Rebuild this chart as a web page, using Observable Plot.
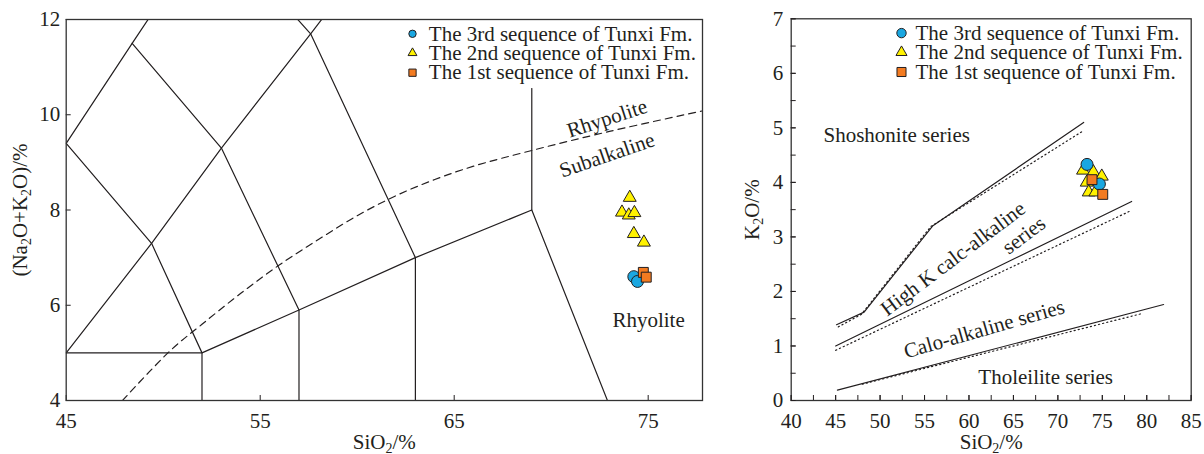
<!DOCTYPE html>
<html><head><meta charset="utf-8">
<script src="https://cdn.jsdelivr.net/npm/d3@7"></script>
<script src="https://cdn.jsdelivr.net/npm/@observablehq/plot@0.6"></script>
<style>
body{margin:0;background:#fff;}
#wrap{position:relative;width:1204px;height:454px;overflow:hidden;}
#wrap svg{position:absolute;top:0;}
</style></head><body><div id="wrap"></div>
<script>
// ---------- data ----------
const legendLabels = ["The 3rd sequence of Tunxi Fm.", "The 2nd sequence of Tunxi Fm.", "The 1st sequence of Tunxi Fm."];
const legendSymbols = ["circle", "triangle", "square"];
const legendColors = ["#1aa7e1", "#fff200", "#f37b21"];

// TAS diagram samples (SiO2, Na2O+K2O)
const tasSeq3Si = [74.26, 74.45];
const tasSeq3Alk = [6.60, 6.50];
const tasSeq2Si = [74.05, 73.65, 74.0, 74.29, 74.26, 74.78];
const tasSeq2Alk = [8.26, 7.95, 7.89, 7.94, 7.50, 7.32];
const tasSeq1Si = [74.75, 74.9];
const tasSeq1Alk = [6.69, 6.59];

// K2O-SiO2 diagram samples
const kSeq3Si = [73.28, 74.67];
const kSeq3K = [4.33, 3.97];
const kSeq2Si = [72.83, 73.99, 74.94, 73.25, 73.47, 74.22];
const kSeq2K = [4.22, 4.19, 4.11, 4.00, 3.82, 3.82];
const kSeq1Si = [73.84, 75.05];
const kSeq1K = [4.05, 3.78];

// TAS field boundaries
const tasBoundaryA = [[45, 9.4], [48.4, 11.5], [52.5, 14]];
const tasBoundaryB = [[45, 5], [49.4, 7.3], [53, 9.3], [57.6, 11.7], [61, 13.5]];
const tasBoundaryC = [[52, 4], [52, 5], [49.4, 7.3], [45, 9.4]];
const tasBoundaryD = [[57, 4], [57, 5.9], [53, 9.3], [48.4, 11.5]];
const tasBoundaryE = [[63, 4], [63, 7], [57.6, 11.7], [50.3, 15]];
const tasBoundaryF = [[45, 5], [52, 5], [57, 5.9], [63, 7], [69, 8], [72.9, 4]];
const tasBoundaryG = [[69, 8], [69, 10.55]];
const alkalineDivide = [[47.9, 4.0], [50.4, 5.06], [52, 5.6], [54, 6.25], [56, 6.85], [58, 7.38], [60, 7.88], [62, 8.3], [64, 8.64], [66, 8.92], [69, 9.25], [73, 9.65], [77.9, 10.09]];

// K2O-SiO2 series boundaries
const shoshoniteSolid = [[45.1, 1.39], [48.2, 1.62], [55.9, 3.2], [72.9, 5.1]];
const shoshoniteDotted = [[45.3, 1.35], [47.9, 1.58], [55.7, 3.19], [72.9, 4.95]];
const highKSolid = [[45, 1.0], [78.3, 3.65]];
const highKDotted = [[45, 0.92], [78.2, 3.48]];
const calcSolid = [[45.2, 0.19], [81.9, 1.76]];
const calcDotted = [[48, 0.3], [79.6, 1.6]];

// tick values
const tasXTicks = [45, 55, 65, 75];
const tasYTicks = [4, 6, 8, 10, 12];
const kXTicks = [40, 45, 50, 55, 60, 65, 70, 75, 80, 85];
const kXMinor = d3.range(40, 85.01, 2.5);
const kYTicks = [0, 1, 2, 3, 4, 5, 6, 7];
const kYMinor = d3.range(0, 7.01, 0.5);

// annotations
const tasLabels = [
  {x: 72.88, y: 9.92, t: "Rhypolite", r: -18},
  {x: 72.88, y: 9.15, t: "Subalkaline", r: -19},
  {x: 75.02, y: 5.69, t: "Rhyolite", r: 0}
];
const kLabels = [
  {x: 51.87, y: 4.86, t: "Shoshonite series", r: 0},
  {x: 58.2, y: 2.60, t: "High K calc-alkaline", r: -37},
  {x: 66.18, y: 3.03, t: "series", r: -37},
  {x: 61.71, y: 1.31, t: "Calo-alkaline series", r: -16},
  {x: 68.63, y: 0.42, t: "Tholeilite series", r: 0}
];
const xLabel = "SiO₂/%";
const tasYLabel = "(Na₂O+K₂O)/%";
const kYLabel = "K₂O/%";

// ---------- drawing ----------
const FONT = "'Liberation Serif','Times New Roman',Times,serif";
const INK = "#231f20";
const FS = 21;
const pts = (xs, ys) => xs.map((x, i) => ({x, y: ys[i]}));

function line(data, extra = {}) {
  return Plot.line(data, {x: d => d[0], y: d => d[1], stroke: INK, strokeWidth: 1.2, clip: true, ...extra});
}
function samples(s3, s2, s1, sizes) {
  return [
    Plot.dot(s2, {x: "x", y: "y", symbol: "triangle", r: sizes[1], fill: legendColors[1], stroke: INK, strokeWidth: 1}),
    Plot.dot(s3, {x: "x", y: "y", symbol: "circle", r: sizes[0], fill: legendColors[0], stroke: INK, strokeWidth: 1}),
    Plot.dot(s1, {x: "x", y: "y", symbol: "square", r: sizes[2], fill: legendColors[2], stroke: INK, strokeWidth: 1})
  ];
}
function legend(dxMarker, dxText, rs) {
  const dys = [14.3, 33.5, 53.2];
  return legendLabels.flatMap((lab, i) => [
    Plot.dot([lab], {frameAnchor: "top-left", dx: dxMarker, dy: dys[i], symbol: legendSymbols[i], r: rs[i], fill: legendColors[i], stroke: INK, strokeWidth: 1}),
    Plot.text([lab], {frameAnchor: "top-left", dx: dxText, dy: dys[i], text: d => d, textAnchor: "start", lineAnchor: "middle", fontSize: FS, fill: INK})
  ]);
}
function annotations(list) {
  return list.map(d => Plot.text([d], {x: "x", y: "y", text: "t", rotate: d.r, fontSize: FS, fill: INK}));
}
function axes(xT, yT, xMinor, yMinor, yPad, yLab, yLabDx) {
  const m = [
    Plot.axisX(xT, {anchor: "bottom", tickSize: -5, tickPadding: 18, fontSize: FS, fill: INK, stroke: INK, label: null, tickFormat: d => d}),
    Plot.axisY(yT, {anchor: "left", tickSize: -5, tickPadding: yPad, fontSize: FS, fill: INK, stroke: INK, label: null, tickFormat: d => d}),
    Plot.text([xLabel], {frameAnchor: "bottom", dy: 41.5, text: d => d, textAnchor: "middle", lineAnchor: "middle", fontSize: FS, fill: INK}),
    Plot.text([yLab], {frameAnchor: "left", dx: yLabDx, rotate: -90, text: d => d, textAnchor: "middle", lineAnchor: "middle", fontSize: FS, fill: INK}),
    Plot.frame({stroke: "#333", strokeWidth: 1.3})
  ];
  if (xMinor) m.push(Plot.axisX(xMinor, {anchor: "bottom", tickSize: -5, stroke: INK, label: null, tickFormat: () => ""}));
  if (yMinor) m.push(Plot.axisY(yMinor, {anchor: "left", tickSize: -5, stroke: INK, label: null, tickFormat: () => ""}));
  return m;
}

const style = {fontFamily: FONT, fontSize: FS + "px", color: INK, background: "transparent", overflow: "visible"};

const left = Plot.plot({
  width: 720, height: 454,
  marginLeft: 65.7, marginRight: 18, marginTop: 19, marginBottom: 54,
  x: {domain: [45, 77.8]}, y: {domain: [4, 12]},
  style,
  marks: [
    ...[tasBoundaryA, tasBoundaryB, tasBoundaryC, tasBoundaryD, tasBoundaryE, tasBoundaryF, tasBoundaryG].map(b => line(b)),
    line(alkalineDivide, {strokeDasharray: "7,5", curve: "catmull-rom"}),
    ...annotations(tasLabels),
    ...samples(pts(tasSeq3Si, tasSeq3Alk), pts(tasSeq2Si, tasSeq2Alk), pts(tasSeq1Si, tasSeq1Alk), [6, 4.8, 5.6]),
    ...legend(346.3, 362.6, [3.7, 3.3, 4.1]),
    ...axes(tasXTicks, tasYTicks, null, null, 11, tasYLabel, -46)
  ]
});

const right = Plot.plot({
  width: 484, height: 454,
  marginLeft: 70.7, marginRight: 13.3, marginTop: 18.3, marginBottom: 54,
  x: {domain: [40, 85]}, y: {domain: [0, 7]},
  style,
  marks: [
    line(shoshoniteSolid), line(shoshoniteDotted, {strokeDasharray: "1.2,3"}),
    line(highKSolid), line(highKDotted, {strokeDasharray: "1.2,3"}),
    line(calcSolid), line(calcDotted, {strokeDasharray: "1.2,3"}),
    ...annotations(kLabels),
    ...samples(pts(kSeq3Si, kSeq3K), pts(kSeq2Si, kSeq2K), pts(kSeq1Si, kSeq1K), [6, 4.8, 5.6]),
    ...legend(110.3, 124.3, [4.7, 4.1, 5.1]),
    ...axes(kXTicks, kYTicks, kXMinor, kYMinor, 13, kYLabel, -39)
  ]
});

function subscripts(svg) {
  svg.querySelectorAll("text").forEach(t => {
    if (!t.textContent.includes("₂")) return;
    const target = t.querySelector("tspan") || t;
    const s = target.textContent;
    target.textContent = "";
    let shifted = false;
    for (const p of s.split(/(₂)/)) {
      if (!p) continue;
      const ts = document.createElementNS("http://www.w3.org/2000/svg", "tspan");
      if (p === "₂") { ts.textContent = "2"; ts.setAttribute("font-size", "14"); ts.setAttribute("dy", "4"); shifted = true; }
      else { ts.textContent = p; if (shifted) { ts.setAttribute("dy", "-4"); shifted = false; } }
      target.appendChild(ts);
    }
  });
}
subscripts(left); subscripts(right);
left.style.left = "0px";
right.style.left = "720px";
document.getElementById("wrap").append(left, right);
</script></body></html>
